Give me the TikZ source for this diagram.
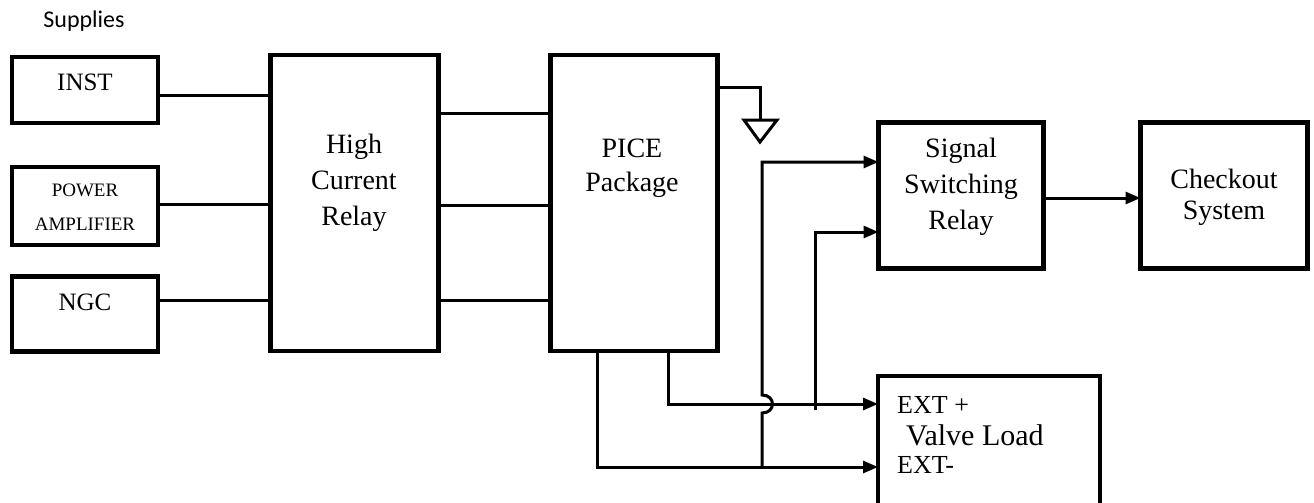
\documentclass[tikz,border=0pt]{standalone}
\usepackage{fontspec}
\setmainfont{Liberation Serif}
\newfontfamily\supfont{Carlito}
\usetikzlibrary{arrows.meta}
\begin{document}
\begin{tikzpicture}[x=1pt,y=-1pt,
  blk/.style={draw,line width=4.5pt,inner sep=0pt,outer sep=0pt},
  lbl/.style={inner sep=0pt,align=center,font=\fontsize{28}{36}\selectfont},
  caps/.style={inner sep=0pt,align=center,font=\fontsize{25}{30}\selectfont},
  small/.style={inner sep=0pt,align=center,font=\fontsize{19}{34}\selectfont},
  wire/.style={line width=3pt},
  arr/.style={wire,-{Triangle[length=15pt,width=12pt]}}]
\useasboundingbox (0,0) rectangle (1314,503);
\clip (0,0) rectangle (1314,503);
% boxes
\node[blk,minimum width=146pt,minimum height=66pt] (inst) at (85,90) {};
\node[blk,minimum width=146pt,minimum height=78pt] (pa) at (85,206) {};
\node[blk,minimum width=146pt,minimum height=75pt] (ngc) at (85,314) {};
\node[blk,minimum width=168pt,minimum height=296pt] (hcr) at (354.5,203) {};
\node[blk,minimum width=167pt,minimum height=296pt] (pice) at (634,203) {};
\node[blk,minimum width=165pt,minimum height=146pt] (ssr) at (961,195.5) {};
\node[blk,minimum width=167pt,minimum height=146pt] (chk) at (1224,195.5) {};
\node[blk,minimum width=222pt,minimum height=170pt] (valve) at (989,461) {};
% texts
\node[inner sep=0pt,font=\supfont\fontsize{24}{28}\selectfont] (sup) at (84,21) {Supplies};
\node[caps] (tinst) at (85,82) {INST};
\node[small] (tpa) at (85,207) {POWER\\AMPLIFIER};
\node[caps] (tngc) at (85,302) {NGC};
\node[lbl] (thcr) at (354,183) {High\\Current\\Relay};
\node[lbl,font=\fontsize{28}{34}\selectfont] (tpice) at (632,168) {PICE\\Package};
\node[lbl] (tssr) at (961,187) {Signal\\Switching\\Relay};
\node[lbl,font=\fontsize{28}{31}\selectfont] (tchk) at (1224,197) {Checkout\\System};
\node[caps,anchor=west,font=\fontsize{26}{30}\selectfont] (extp) at (897,405) {EXT +};
\node[lbl,anchor=west,font=\fontsize{30}{36}\selectfont] (tvl) at (906,435) {Valve Load};
\node[caps,anchor=west,font=\fontsize{26}{30}\selectfont] (extm) at (897,465) {EXT-};
% supply wires
\draw[wire] (inst.east |- 0,95) -- (hcr.west |- 0,95);
\draw[wire] (pa.east |- 0,204) -- (hcr.west |- 0,204);
\draw[wire] (ngc.east |- 0,300) -- (hcr.west |- 0,300);
% relay to PICE
\draw[wire] (hcr.east |- 0,113) -- (pice.west |- 0,113);
\draw[wire] (hcr.east |- 0,205) -- (pice.west |- 0,205);
\draw[wire] (hcr.east |- 0,300) -- (pice.west |- 0,300);
% ground
\coordinate (gnd) at (760,120);
\draw[wire] (pice.east |- 0,87) -- (gnd |- 0,87) -- (gnd);
\draw[wire,line join=miter] (744,120) -- (777,120) -- (760,142) -- cycle;
% PICE bottom outputs
\coordinate (pm) at (597,467);
\coordinate (pp) at (668,404);
\draw[arr] (pice.south -| pm) -- (pm) -- (valve.west |- pm);
\draw[arr] (pice.south -| pp) -- (pp) -- (valve.west |- pp);
% feeds to signal switching relay
\coordinate (v1) at (762,162);
\coordinate (v2) at (815,232);
\draw[arr] (v1 |- pm) -- (762,413) .. controls (776,413) and (776,395) .. (762,395) -- (v1) -- (ssr.west |- v1);
\draw[arr] (815,410) -- (v2) -- (ssr.west |- v2);
% to checkout
\draw[arr] (ssr.east |- 0,198) -- (chk.west |- 0,198);
\end{tikzpicture}
\end{document}
